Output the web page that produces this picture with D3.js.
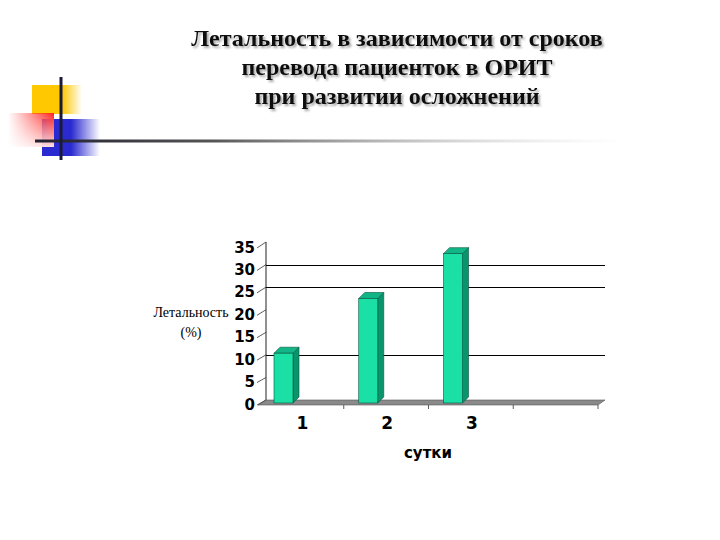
<!DOCTYPE html>
<html>
<head>
<meta charset="utf-8">
<script src="https://cdn.jsdelivr.net/npm/d3@7"></script>
<style>
  body { margin: 0; background: #fff; }
  svg { display: block; }
</style>
</head>
<body>
<div id="vis"></div>
<script>
// data
const titleLines = ["Летальность в зависимости от сроков", "перевода пациенток в ОРИТ", "при развитии осложнений"];
const categories = ["1", "2", "3", ""];
const values = [11.1, 23.3, 33.3];
const yTicks = [0, 5, 10, 15, 20, 25, 30, 35];
const gridValues = [10, 25, 30];
const yTitle = ["Летальность", "(%)"];
const xTitle = "сутки";

const WIDTH = 720;
const HEIGHT = 540;

// 3D offsets (front plane -> back wall)
const DEPTH = {dx: 7, dy: -5};
const BAR_DEPTH = {dx: 6, dy: -6};

const svg = d3.select("#vis")
  .append("svg")
    .attr("width", WIDTH)
    .attr("height", HEIGHT);

const defs = svg.append("defs");

function hGrad(id, stops) {
  const g = defs.append("linearGradient").attr("id", id)
    .attr("x1", "0%").attr("x2", "100%").attr("y1", "0%").attr("y2", "0%");
  stops.forEach(s => g.append("stop").attr("offset", s[0]).attr("stop-color", s[1]).attr("stop-opacity", s[2]));
}
hGrad("gYellow", [["0%", "#ffc800", 1], ["60%", "#ffc800", 1], ["100%", "#ffc800", 0]]);
hGrad("gBlue", [["0%", "#2a2ad0", 1], ["50%", "#2a2ad0", 1], ["100%", "#2a2ad0", 0]]);
hGrad("gRed", [["0%", "#ff3030", 0], ["100%", "#ff2020", 1]]);
hGrad("gLine", [["0%", "#202030", 1], ["30%", "#555", 1], ["100%", "#ccc", 0]]);

const redV = defs.append("linearGradient").attr("id", "gRedV")
  .attr("x1", "0%").attr("x2", "0%").attr("y1", "0%").attr("y2", "100%");
redV.append("stop").attr("offset", "0%").attr("stop-color", "#fff").attr("stop-opacity", 0);
redV.append("stop").attr("offset", "100%").attr("stop-color", "#fff").attr("stop-opacity", 0.85);

const shadow = defs.append("filter").attr("id", "tshadow")
  .attr("x", "-5%").attr("y", "-20%").attr("width", "110%").attr("height", "150%");
shadow.append("feGaussianBlur").attr("in", "SourceAlpha").attr("stdDeviation", 0.8).attr("result", "b");
shadow.append("feOffset").attr("in", "b").attr("dx", 2).attr("dy", 2).attr("result", "o");
shadow.append("feComponentTransfer").attr("in", "o").attr("result", "s")
  .append("feFuncA").attr("type", "linear").attr("slope", 0.35);
const merge = shadow.append("feMerge");
merge.append("feMergeNode").attr("in", "s");
merge.append("feMergeNode").attr("in", "SourceGraphic");

// corner decoration
const deco = svg.append("g");
deco.append("rect").attr("x", 32).attr("y", 85).attr("width", 50).attr("height", 29).attr("fill", "url(#gYellow)");
deco.append("rect").attr("x", 42).attr("y", 119).attr("width", 58).attr("height", 37).attr("fill", "url(#gBlue)");
deco.append("rect").attr("x", 8).attr("y", 113).attr("width", 46).attr("height", 34).attr("fill", "url(#gRed)");
deco.append("rect").attr("x", 8).attr("y", 113).attr("width", 46).attr("height", 34).attr("fill", "url(#gRedV)");
deco.append("rect").attr("x", 35).attr("y", 139.5).attr("width", 590).attr("height", 3).attr("fill", "url(#gLine)");
deco.append("rect").attr("x", 59.5).attr("y", 77).attr("width", 3).attr("height", 83).attr("fill", "#1a1a3a");

// title
svg.append("g")
  .attr("filter", "url(#tshadow)")
  .selectAll("text")
  .data(titleLines)
  .enter()
  .append("text")
    .attr("x", 397)
    .attr("y", (d, i) => 46 + i * 29)
    .attr("text-anchor", "middle")
    .attr("font-family", "Liberation Serif, serif")
    .attr("font-weight", "bold")
    .attr("font-size", "24px")
    .attr("fill", "#111")
    .text(d => d);

// scales
const X_SCALE = d3.scaleBand()
  .domain(categories)
  .range([259, 598]);

const Y_FRONT = d3.scaleLinear().domain([0, 35]).range([404, 247]);
const Y_BACK = d3.scaleLinear().domain([0, 35]).range([400, 242]);
const Y_BAR = d3.scaleLinear().domain([0, 35]).range([403, 246]);

const chart = svg.append("g");

// back wall axis line
chart.append("line")
  .attr("x1", X_SCALE.range()[0] + DEPTH.dx).attr("x2", X_SCALE.range()[0] + DEPTH.dx)
  .attr("y1", Y_BACK(35)).attr("y2", Y_BACK(0))
  .attr("stroke", "#222").attr("stroke-width", 1);

// gridlines on back wall
chart.selectAll(".grid")
  .data(gridValues)
  .enter()
  .append("line")
    .attr("class", "grid")
    .attr("x1", X_SCALE.range()[0] + DEPTH.dx)
    .attr("x2", X_SCALE.range()[1] + DEPTH.dx)
    .attr("y1", d => Math.round(Y_BACK(d)) + 0.5)
    .attr("y2", d => Math.round(Y_BACK(d)) + 0.5)
    .attr("stroke", "#000").attr("stroke-width", 1);

// floor
const x0 = X_SCALE.range()[0], x1 = X_SCALE.range()[1];
chart.append("path")
  .attr("d", "M" + (x0 - 1) + "," + (Y_FRONT(0) + 1) +
             "L" + x1 + "," + (Y_FRONT(0) + 1) +
             "L" + (x1 + DEPTH.dx) + "," + Y_BACK(0) +
             "L" + (x0 + DEPTH.dx) + "," + Y_BACK(0) + "Z")
  .attr("fill", "#8a8a8a").attr("stroke", "#555").attr("stroke-width", 0.6);

// y ticks (diagonal) and labels
chart.selectAll(".ytick")
  .data(yTicks)
  .enter()
  .append("line")
    .attr("x1", x0 - 2).attr("y1", d => Y_FRONT(d) + 1)
    .attr("x2", x0 + DEPTH.dx).attr("y2", d => Y_BACK(d))
    .attr("stroke", "#333").attr("stroke-width", 0.8);

chart.selectAll(".ylab")
  .data(yTicks)
  .enter()
  .append("text")
    .attr("x", x0 - 4)
    .attr("y", d => Y_FRONT(d) + 5.5)
    .attr("text-anchor", "end")
    .attr("font-family", "DejaVu Sans, sans-serif")
    .attr("font-weight", "bold")
    .attr("font-size", "15px")
    .attr("fill", "#000")
    .text(d => d);

// x category ticks
chart.selectAll(".xtick")
  .data(categories.map(c => X_SCALE(c) + X_SCALE.bandwidth()))
  .enter()
  .append("line")
    .attr("x1", d => d).attr("x2", d => d)
    .attr("y1", Y_FRONT(0) + 1).attr("y2", Y_FRONT(0) + 5)
    .attr("stroke", "#333").attr("stroke-width", 0.8);

chart.selectAll(".xlab")
  .data(categories)
  .enter()
  .append("text")
    .attr("x", d => X_SCALE(d) + X_SCALE.bandwidth() / 2 + 1)
    .attr("y", 429)
    .attr("text-anchor", "middle")
    .attr("font-family", "DejaVu Sans, sans-serif")
    .attr("font-weight", "bold")
    .attr("font-size", "17px")
    .attr("fill", "#000")
    .text(d => d);

// 3D bars
const BAR_OFFSET = 15;
const BAR_W = 19;
const bars = chart.selectAll(".bar")
  .data(values)
  .enter()
  .append("g")
    .attr("class", "bar");

bars.append("path") // side
  .attr("d", (d, i) => {
    const bx = X_SCALE(categories[i]) + BAR_OFFSET + BAR_W;
    const top = Y_BAR(d), bot = Y_BAR(0);
    return "M" + bx + "," + bot + "L" + bx + "," + top +
           "L" + (bx + BAR_DEPTH.dx) + "," + (top + BAR_DEPTH.dy) +
           "L" + (bx + BAR_DEPTH.dx) + "," + (bot + BAR_DEPTH.dy) + "Z";
  })
  .attr("fill", "#0a946c").attr("stroke", "#04563e").attr("stroke-width", 0.6);

bars.append("path") // top
  .attr("d", (d, i) => {
    const bx = X_SCALE(categories[i]) + BAR_OFFSET;
    const top = Y_BAR(d);
    return "M" + bx + "," + top + "L" + (bx + BAR_W) + "," + top +
           "L" + (bx + BAR_W + BAR_DEPTH.dx) + "," + (top + BAR_DEPTH.dy) +
           "L" + (bx + BAR_DEPTH.dx) + "," + (top + BAR_DEPTH.dy) + "Z";
  })
  .attr("fill", "#12b586").attr("stroke", "#04563e").attr("stroke-width", 0.6);

bars.append("rect") // front
  .attr("x", (d, i) => X_SCALE(categories[i]) + BAR_OFFSET)
  .attr("y", d => Y_BAR(d))
  .attr("width", BAR_W)
  .attr("height", d => Y_BAR(0) - Y_BAR(d))
  .attr("fill", "#1ae0a6").attr("stroke", "#04563e").attr("stroke-width", 0.6);

// axis titles
chart.selectAll(".ytitle")
  .data(yTitle)
  .enter()
  .append("text")
    .attr("x", 191)
    .attr("y", (d, i) => 317 + i * 20)
    .attr("text-anchor", "middle")
    .attr("font-family", "Liberation Serif, serif")
    .attr("font-size", "14px")
    .attr("fill", "#000")
    .text(d => d);

chart.append("text")
  .attr("x", 428)
  .attr("y", 458)
  .attr("text-anchor", "middle")
  .attr("font-family", "DejaVu Sans, sans-serif")
  .attr("font-weight", "bold")
  .attr("font-size", "15px")
  .attr("fill", "#000")
  .text(xTitle);
</script>
</body>
</html>
